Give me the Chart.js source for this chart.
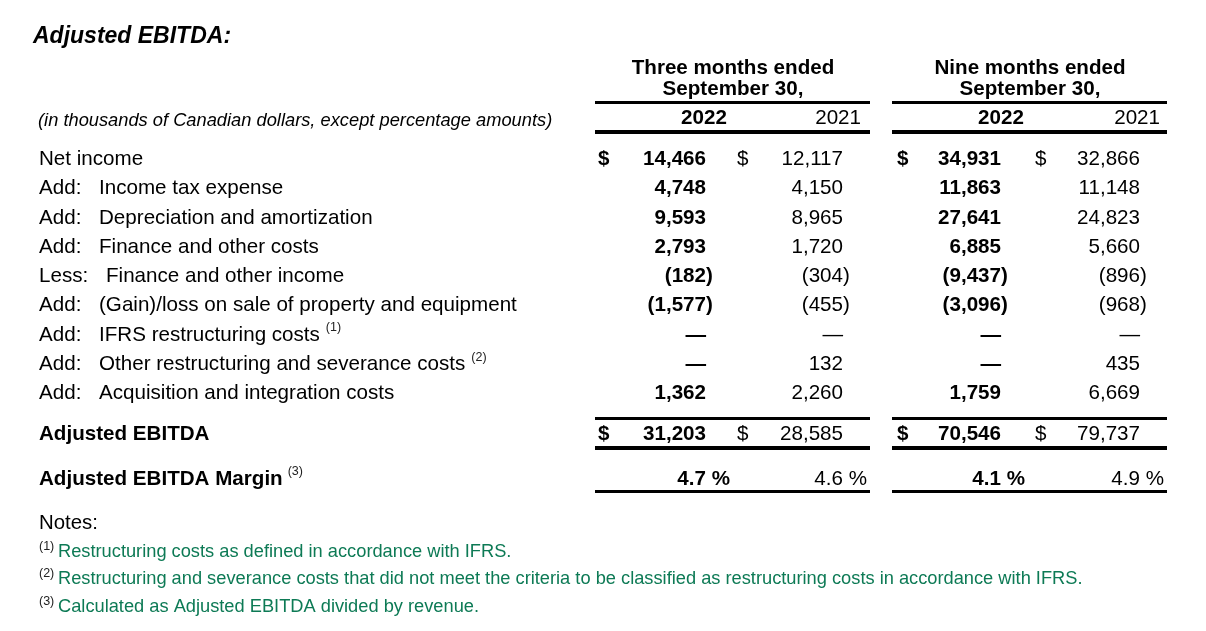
<!DOCTYPE html>
<html>
<head>
<meta charset="utf-8">
<title>Adjusted EBITDA</title>
<script src="https://cdn.jsdelivr.net/npm/chart.js@4"></script>
<style>
  html, body { margin: 0; padding: 0; background: #fff; }
  #wrap { width: 1206px; height: 631px; position: relative; }
</style>
</head>
<body>
<div id="wrap"><canvas id="bang"></canvas></div>
<script>
// dữ liệu bảng
const categories = [
  "Net income",
  "Income tax expense",
  "Depreciation and amortization",
  "Finance and other costs",
  "Finance and other income",
  "(Gain)/loss on sale of property and equipment",
  "IFRS restructuring costs",
  "Other restructuring and severance costs",
  "Acquisition and integration costs",
];
const prefixes = ["", "Add:", "Add:", "Add:", "Less:", "Add:", "Add:", "Add:", "Add:"];
const noteRefs = [null, null, null, null, null, null, "(1)", "(2)", null];

const q3_2022 = [14466, 4748, 9593, 2793, -182, -1577, null, null, 1362];
const q3_2021 = [12117, 4150, 8965, 1720, -304, -455, null, 132, 2260];
const ytd_2022 = [34931, 11863, 27641, 6885, -9437, -3096, null, null, 1759];
const ytd_2021 = [32866, 11148, 24823, 5660, -896, -968, null, 435, 6669];

const adjEbitda = [31203, 28585, 70546, 79737];
const adjMargin = [4.7, 4.6, 4.1, 4.9];

const periods = ["Three months ended", "Nine months ended"];
const periodEnd = "September 30,";
const years = ["2022", "2021", "2022", "2021"];

const notes = [
  ["(1)", "Restructuring costs as defined in accordance with IFRS."],
  ["(2)", "Restructuring and severance costs that did not meet the criteria to be classified as restructuring costs in accordance with IFRS."],
  ["(3)", "Calculated as Adjusted EBITDA divided by revenue."],
];

// bố cục
const FONT = '"Liberation Sans", Arial, sans-serif';
const BODY = "20.6px " + FONT;
const BOLD = "bold 20.6px " + FONT;
const DY = 1.5; // chỉnh baseline
const colRight = [706, 843, 1001, 1140];
const dollarX = [598, 737, 897, 1035];
const boldCol = [true, false, true, false];
const groups = [{ x0: 595, x1: 870, c: 733 }, { x0: 892, x1: 1167, c: 1030 }];
const rowY = categories.map((_, i) => 158 + i * 29.25);
const totalY = 433;
const marginY = 478;

const columns = [q3_2022, q3_2021, ytd_2022, ytd_2021];

const datasets = columns.map((col, c) => ({
  label: years[c],
  data: col
    .map((v, i) => ({ x: colRight[c], y: rowY[i], v: v, kind: "row" }))
    .concat([
      { x: colRight[c], y: totalY, v: adjEbitda[c], kind: "total" },
      { x: colRight[c], y: marginY, v: adjMargin[c], kind: "margin" },
    ]),
  pointRadius: 0,
  pointHoverRadius: 0,
}));

function fmt(v) {
  if (v === null) return "—";
  const s = Math.abs(v).toLocaleString("en-US");
  return v < 0 ? "(" + s : s;
}

const tablePlugin = {
  id: "tablePlugin",
  afterDatasetsDraw(chart) {
    const ctx = chart.ctx;
    const sx = chart.scales.x;
    const sy = chart.scales.y;
    const px = (v) => sx.getPixelForValue(v);
    const py = (v) => sy.getPixelForValue(v);
    ctx.save();
    ctx.textBaseline = "middle";

    const text = (t, x, y, font, align, color) => {
      ctx.font = font;
      ctx.textAlign = align || "left";
      ctx.fillStyle = color || "#000";
      ctx.fillText(t, px(x), py(y + DY));
    };
    const rule = (x0, x1, y, h) => {
      ctx.fillStyle = "#000";
      ctx.fillRect(px(x0), py(y), px(x1) - px(x0), h);
    };

    // tiêu đề
    text("Adjusted EBITDA:", 33, 35, "italic bold 23px " + FONT);
    text("(in thousands of Canadian dollars, except percentage amounts)", 38, 119, "italic 18.3px " + FONT);

    groups.forEach((g, k) => {
      text(periods[k], g.c, 67, BOLD, "center");
      text(periodEnd, g.c, 88, BOLD, "center");
      rule(g.x0, g.x1, 101, 3);
      rule(g.x0, g.x1, 130, 4);
      rule(g.x0, g.x1, 417, 3);
      rule(g.x0, g.x1, 446, 4);
      rule(g.x0, g.x1, 490, 3);
    });
    text(years[0], 704, 117, BOLD, "center");
    text(years[1], 861, 117, BODY, "right");
    text(years[2], 1001, 117, BOLD, "center");
    text(years[3], 1160, 117, BODY, "right");

    // nhãn dòng
    categories.forEach((name, i) => {
      const y = rowY[i];
      let x = 39;
      if (prefixes[i]) {
        text(prefixes[i], 39, y, BODY);
        x = prefixes[i] === "Less:" ? 106 : 99;
      }
      text(name, x, y, BODY);
      if (noteRefs[i]) {
        ctx.font = BODY;
        const w = ctx.measureText(name).width;
        text(noteRefs[i], x + w + 6, y - 7, "12.5px " + FONT, "left", "#222");
      }
    });
    text("Adjusted EBITDA", 39, totalY, BOLD);
    text("Adjusted EBITDA Margin", 39, marginY, BOLD);
    ctx.font = BOLD;
    const mw = ctx.measureText("Adjusted EBITDA Margin").width;
    text("(3)", 39 + mw + 5, marginY - 8, "12.5px " + FONT, "left", "#222");

    // giá trị
    chart.data.datasets.forEach((ds, c) => {
      const meta = chart.getDatasetMeta(c);
      const font = boldCol[c] ? BOLD : BODY;
      meta.data.forEach((el, i) => {
        const d = ds.data[i];
        const y = el.y + DY;
        ctx.font = font;
        ctx.fillStyle = "#000";
        if (d.kind === "margin") {
          ctx.textAlign = "right";
          ctx.fillText(d.v.toFixed(1), el.x, y);
          ctx.textAlign = "left";
          ctx.fillText(" %", el.x, y);
          return;
        }
        ctx.textAlign = "right";
        ctx.fillText(fmt(d.v), el.x, y);
        if (d.v !== null && d.v < 0) {
          ctx.textAlign = "left";
          ctx.fillText(")", el.x, y);
        }
        if (i === 0 || d.kind === "total") {
          ctx.textAlign = "left";
          ctx.fillText("$", px(dollarX[c]), y);
        }
      });
    });

    // ghi chú
    text("Notes:", 39, 522, "20.4px " + FONT);
    notes.forEach((n, k) => {
      const y = 550 + k * 27.5;
      text(n[0], 39, y - 5, "12.5px " + FONT, "left", "#222");
      text(n[1], 58, y, "18.25px " + FONT, "left", "#0d7a55");
    });

    ctx.restore();
  },
};

new Chart(document.getElementById("bang"), {
  type: "scatter",
  data: { datasets: datasets },
  options: {
    responsive: true,
    maintainAspectRatio: false,
    animation: false,
    layout: { padding: 0 },
    events: [],
    scales: {
      x: { type: "linear", min: 0, max: 1206, display: false },
      y: { type: "linear", min: 0, max: 631, reverse: true, display: false },
    },
    plugins: {
      legend: { display: false },
      tooltip: { enabled: false },
    },
  },
  plugins: [tablePlugin],
});
</script>
</body>
</html>
